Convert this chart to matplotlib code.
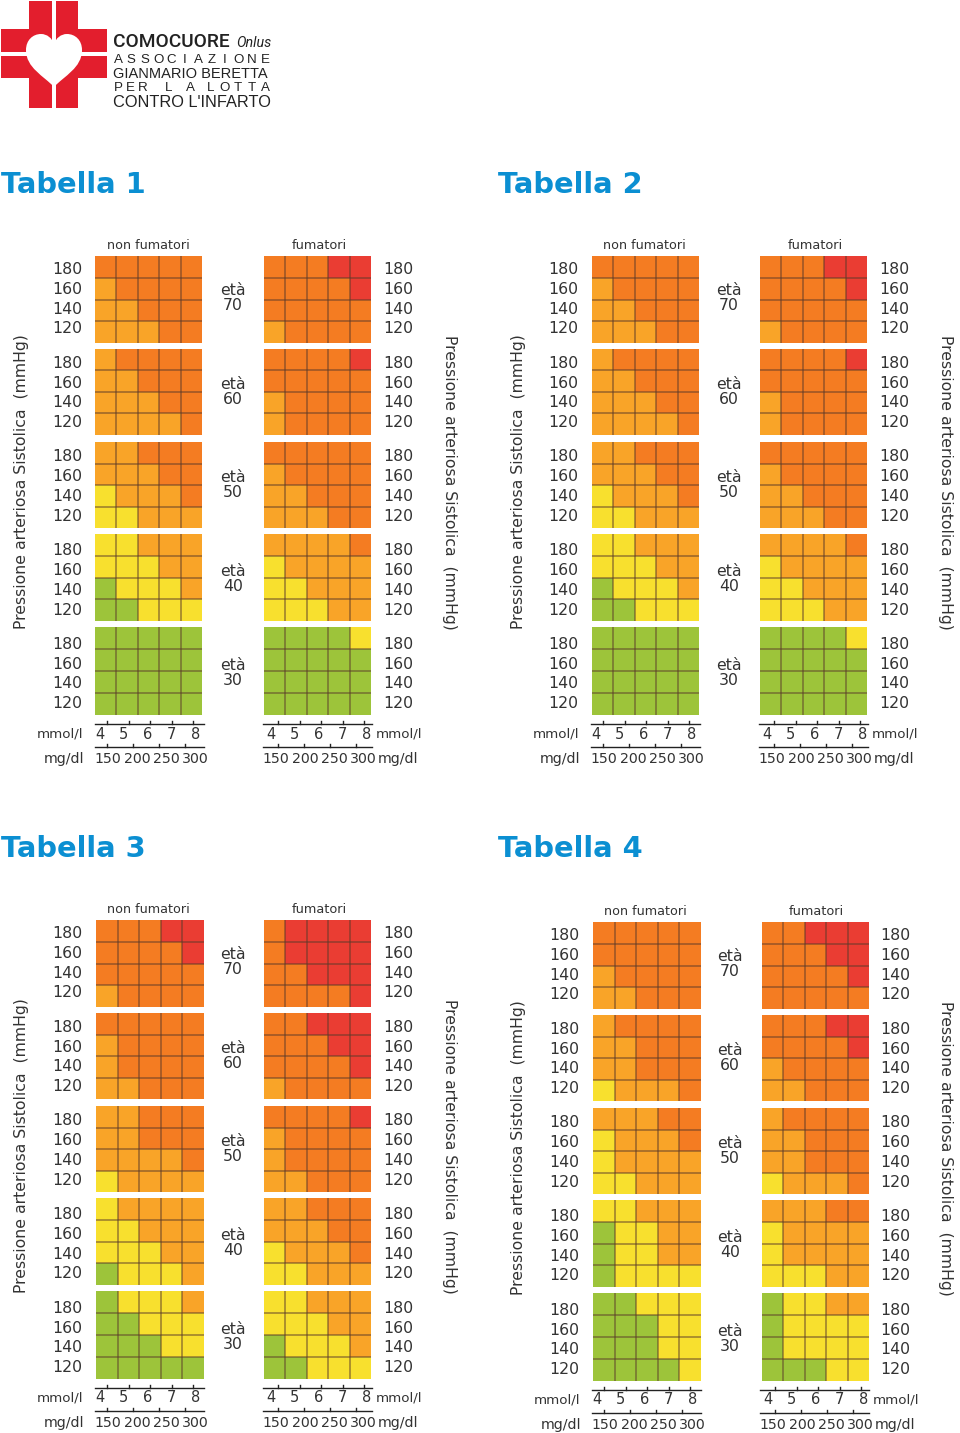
import numpy as np
import matplotlib
matplotlib.use('Agg')
import matplotlib.pyplot as plt
from matplotlib.colors import ListedColormap, BoundaryNorm
from matplotlib.patches import Rectangle, PathPatch
from matplotlib.path import Path

W, H = 960, 1433

# risk class per cell: 0 green, 1 yellow, 2 light orange, 3 orange, 4 red
# each table: age 70, 60, 50, 40, 30 / rows 180..120 / columns 4..8 mmol/l
t1_non = [
    [[3,3,3,3,3],[2,3,3,3,3],[2,2,3,3,3],[2,2,2,3,3]],
    [[2,3,3,3,3],[2,2,3,3,3],[2,2,2,3,3],[2,2,2,2,3]],
    [[2,2,3,3,3],[2,2,2,3,3],[1,2,2,2,3],[1,1,2,2,2]],
    [[1,1,2,2,2],[1,1,1,2,2],[0,1,1,1,2],[0,0,1,1,1]],
    [[0,0,0,0,0],[0,0,0,0,0],[0,0,0,0,0],[0,0,0,0,0]],
]
t1_smk = [
    [[3,3,3,4,4],[3,3,3,3,4],[3,3,3,3,3],[2,3,3,3,3]],
    [[3,3,3,3,4],[3,3,3,3,3],[2,3,3,3,3],[2,3,3,3,3]],
    [[3,3,3,3,3],[2,3,3,3,3],[2,2,3,3,3],[2,2,2,3,3]],
    [[2,2,2,2,3],[1,2,2,2,2],[1,1,2,2,2],[1,1,1,2,2]],
    [[0,0,0,0,1],[0,0,0,0,0],[0,0,0,0,0],[0,0,0,0,0]],
]
# tabella 2 reads the same as tabella 1
t2_non = t1_non
t2_smk = t1_smk
t3_non = [
    [[3,3,3,4,4],[3,3,3,3,4],[3,3,3,3,3],[2,3,3,3,3]],
    [[3,3,3,3,3],[2,3,3,3,3],[2,3,3,3,3],[2,2,3,3,3]],
    [[2,2,3,3,3],[2,2,3,3,3],[2,2,2,2,3],[1,2,2,2,2]],
    [[1,2,2,2,2],[1,1,2,2,2],[1,1,1,2,2],[0,1,1,1,2]],
    [[0,1,1,1,2],[0,0,1,1,1],[0,0,0,1,1],[0,0,0,0,0]],
]
t3_smk = [
    [[3,4,4,4,4],[3,4,4,4,4],[3,3,4,4,4],[3,3,3,3,4]],
    [[3,3,4,4,4],[3,3,3,4,4],[3,3,3,3,4],[2,3,3,3,3]],
    [[3,3,3,3,4],[2,3,3,3,3],[2,3,3,3,3],[2,2,3,3,3]],
    [[2,2,3,3,3],[2,2,2,3,3],[1,2,2,2,3],[1,1,2,2,2]],
    [[1,1,2,2,2],[1,1,1,2,2],[0,1,1,1,2],[0,0,1,1,1]],
]
t4_non = [
    [[3,3,3,3,3],[3,3,3,3,3],[2,3,3,3,3],[2,2,3,3,3]],
    [[2,3,3,3,3],[2,2,3,3,3],[2,2,3,3,3],[1,2,2,2,3]],
    [[2,2,2,3,3],[1,2,2,2,3],[1,2,2,2,2],[1,1,2,2,2]],
    [[1,1,2,2,2],[0,1,1,2,2],[0,1,1,2,2],[0,1,1,1,1]],
    [[0,0,1,1,1],[0,0,0,1,1],[0,0,0,1,1],[0,0,0,0,1]],
]
t4_smk = [
    [[3,3,4,4,4],[3,3,3,4,4],[3,3,3,3,4],[3,3,3,3,3]],
    [[3,3,3,4,4],[3,3,3,3,4],[2,3,3,3,3],[2,2,3,3,3]],
    [[2,3,3,3,3],[2,2,3,3,3],[2,2,3,3,3],[1,2,2,2,3]],
    [[2,2,2,3,3],[1,2,2,2,2],[1,2,2,2,2],[1,1,1,2,2]],
    [[0,1,1,2,2],[0,1,1,1,1],[0,1,1,1,1],[0,0,0,1,1]],
]

ages = [70, 60, 50, 40, 30]
pressures = [180, 160, 140, 120]
mmol = [4, 5, 6, 7, 8]
mgdl = [150, 200, 250, 300]

risk_colors = ['#9dc43a', '#f8e02e', '#f9a428', '#f47c22', '#ea3d33']
cmap = ListedColormap(risk_colors)
norm = BoundaryNorm(np.arange(-0.5, 5.5), cmap.N)

TEXT = '#333333'
BLUE = '#0b8fd2'

fig = plt.figure(figsize=(W / 100, H / 100), dpi=100, facecolor='white')

# overlay in pixel units for labels and the logo
pg = fig.add_axes([0, 0, 1, 1], zorder=3)
pg.set_xlim(0, W)
pg.set_ylim(H, 0)
pg.axis('off')
pg.patch.set_alpha(0)


def block(values, x0, x1, y0, y1):
    ax = fig.add_axes([x0 / W, 1 - y1 / H, (x1 - x0) / W, (y1 - y0) / H])
    ax.pcolormesh(np.array(values), cmap=cmap, norm=norm)
    ax.invert_yaxis()
    ax.set_xticks(range(1, 5))
    ax.set_yticks(range(1, 4))
    ax.tick_params(length=0, labelbottom=False, labelleft=False)
    ax.grid(True, color='#5a3a2a', alpha=0.62, lw=1.1)
    for s in ax.spines.values():
        s.set_visible(False)


def axis_scale(x0, x1, y, ticks):
    pg.plot([x0, x1], [y, y], color='#222222', lw=1.0)
    for t in ticks:
        pg.plot([t, t], [y - 3, y], color='#222222', lw=1.0)


def table(name, non, smk, dx, dy, gl, gr, title_x):
    pg.text(title_x, 185 + (664 if dy else 0), name, color=BLUE, fontsize=20.8,
            fontweight='bold', ha='left', va='center')

    tops = [256, 349, 442, 534, 627]
    bots = [343, 435, 528, 621, 715]
    for i, age in enumerate(ages):
        block(non[i], gl[0], gl[1], tops[i] + dy, bots[i] + dy)
        block(smk[i], gr[0], gr[1], tops[i] + dy, bots[i] + dy)
        yb = 269.5 + 93.7 * i + dy
        for j, p in enumerate(pressures):
            y = yb + 19.8 * j
            pg.text(67 + dx, y, str(p), color=TEXT, fontsize=11.3, ha='center', va='center')
            pg.text(398 + dx, y, str(p), color=TEXT, fontsize=11.3, ha='center', va='center')
        pg.text(233 + dx, yb + 21, 'età', color=TEXT, fontsize=11.3, ha='center', va='center')
        pg.text(233 + dx, yb + 36, str(age), color=TEXT, fontsize=11.3, ha='center', va='center')

    pg.text(148 + dx, 245 + dy, 'non fumatori', color=TEXT, fontsize=9.2, ha='center', va='center')
    pg.text(319 + dx, 245 + dy, 'fumatori', color=TEXT, fontsize=9.3, ha='center', va='center')
    pg.text(22 + dx, 482 + dy, 'Pressione arteriosa Sistolica  (mmHg)', color=TEXT, fontsize=11.3,
            rotation=90, ha='center', va='center')
    pg.text(449 + dx, 482 + dy, 'Pressione arteriosa Sistolica  (mmHg)', color=TEXT, fontsize=11.3,
            rotation=270, ha='center', va='center')

    # cholesterol scales under each column of blocks
    for k, (x0, x1, ux, vx) in enumerate([(95, 204, 100, 108), (263, 372, 271, 276)]):
        axis_scale(x0 + dx, x1 + dx, 724 + dy, [ux + 7 + dx + 21.6 * n for n in range(5)])
        axis_scale(x0 + dx, x1 + dx, 747 + dy, [ux + 7 + dx + 26 * n for n in range(4)])
        for n, m in enumerate(mmol):
            pg.text(ux + dx + 23.8 * n, 734 + dy, str(m), color=TEXT, fontsize=10.5,
                    ha='center', va='center')
        for n, m in enumerate(mgdl):
            pg.text(vx + dx + 29 * n, 759 + dy, str(m), color=TEXT, fontsize=10.2,
                    ha='center', va='center')
    pg.text(83 + dx, 734 + dy, 'mmol/l', color=TEXT, fontsize=9.6, ha='right', va='center')
    pg.text(84 + dx, 759 + dy, 'mg/dl', color=TEXT, fontsize=10.2, ha='right', va='center')
    pg.text(376 + dx, 734 + dy, 'mmol/l', color=TEXT, fontsize=9.6, ha='left', va='center')
    pg.text(378 + dx, 759 + dy, 'mg/dl', color=TEXT, fontsize=10.2, ha='left', va='center')


def spaced(s, x0, x1, y, size):
    # letters evenly spread between two x positions
    xs = np.linspace(x0, x1, len(s))
    for c, x in zip(s, xs):
        pg.text(x, y, c, color='#222222', fontsize=size, ha='center', va='center',
                family='Liberation Sans')


def logo():
    red = '#e31e2d'
    pg.add_patch(Rectangle((29, 1), 49, 107, color=red, lw=0))
    pg.add_patch(Rectangle((1, 29), 106, 49, color=red, lw=0))
    pg.add_patch(Rectangle((52, 0), 4, 110, color='white', lw=0))
    pg.add_patch(Rectangle((0, 52), 110, 4, color='white', lw=0))
    verts = [(54, 87), (44, 76), (26, 68), (26, 50), (26, 40), (33, 34), (41, 34),
             (47, 34), (52, 38), (54, 44), (56, 38), (61, 34), (67, 34),
             (75, 34), (82, 40), (82, 50), (82, 68), (64, 76), (54, 87)]
    codes = [Path.MOVETO] + [Path.CURVE4] * 18
    pg.add_patch(PathPatch(Path(verts, codes), facecolor='white', lw=0))
    pg.text(113, 42, 'COMOCUORE', color='#222222', fontsize=13.8, va='center', ha='left',
            family='Roboto', fontweight='medium')
    pg.text(236, 43, 'Onlus', color='#222222', fontsize=10.3, va='center', ha='left', style='italic',
            family='Roboto')
    spaced('ASSOCIAZIONE', 118, 265, 60, 9.6)
    pg.text(113, 74, 'GIANMARIO BERETTA', color='#222222', fontsize=10.5, va='center', ha='left',
            family='Liberation Sans')
    spaced('PER', 118, 143, 88, 9.6)
    spaced('LA', 169, 190, 88, 9.6)
    spaced('LOTTA', 211, 265, 88, 9.6)
    pg.text(113, 102, "CONTRO L'INFARTO", color='#222222', fontsize=11.8, va='center', ha='left',
            family='Liberation Sans')


logo()
table('Tabella 1', t1_non, t1_smk, 0, 0, (95, 202), (264, 371), 1)
table('Tabella 2', t2_non, t2_smk, 496, 0, (592, 699), (760, 867), 498)
table('Tabella 3', t3_non, t3_smk, 0, 664, (96, 204), (264, 371), 1)
table('Tabella 4', t4_non, t4_smk, 497, 666, (593, 701), (762, 869), 498)

fig.savefig('out.png', dpi=100, facecolor='white')
